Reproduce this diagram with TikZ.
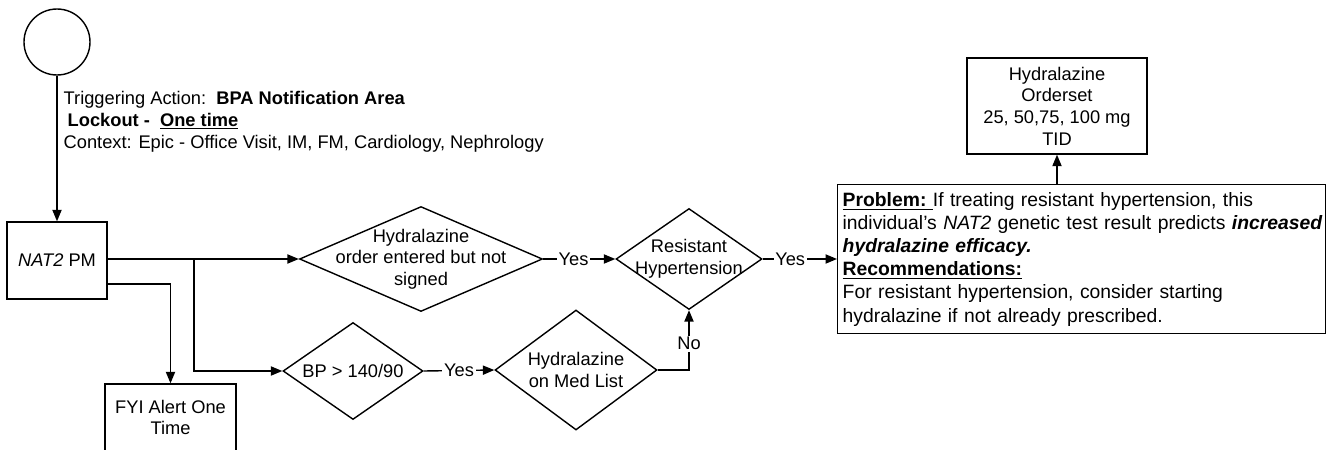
\documentclass[tikz,border=0pt]{standalone}
\usepackage{fontspec}
\setmainfont{Liberation Sans}
\usetikzlibrary{shapes.geometric,arrows.meta}
\begin{document}
\begin{tikzpicture}[x=0.02cm,y=-0.02cm,
  line width=0.8pt,
  every node/.style={font=\fontsize{10.4}{12.3}\selectfont},
  box/.style={draw, rectangle, inner sep=0pt, align=center},
  dia/.style={draw, diamond, inner sep=0pt},
  txt/.style={align=center, inner sep=0pt},
  arr/.style={-{Triangle[length=6.5pt,width=5.2pt]}},
  lab/.style={fill=white, inner sep=1pt}
]
\useasboundingbox[fill=white] (0,0) rectangle (1330,450);

% start circle and trigger text
\node[draw, circle, minimum size=1.32cm, inner sep=0pt] (start) at (57,42) {};
\node[anchor=base west, inner sep=0pt] (t1) at (63,104) {Triggering Action:\ \ \textbf{BPA Notification Area}};
\node[anchor=base west, inner sep=0pt] (t2) at (67,126) {\textbf{Lockout -\ \ \underline{One time}}};
\node[anchor=base west, inner sep=0pt] (t3) at (63,148) {Context: Epic - Office Visit, IM, FM, Cardiology, Nephrology};

% boxes
\node[box, minimum width=2cm, minimum height=1.54cm] (nat2) at (57,260.5) {\textit{NAT2} PM};
\node[box, minimum width=2.62cm, minimum height=1.34cm] (fyi) at (170.5,417.5) {FYI Alert One\\Time};
\node[box, anchor=north west, minimum width=9.76cm, minimum height=2.98cm,
      text width=9.56cm, inner xsep=0.1cm, align=left,
      font=\fontsize{11}{13.2}\selectfont] (prob) at (837,184)
  {\underline{\textbf{Problem:}\ }If treating resistant hypertension, this\\
   \makebox[\linewidth][l]{individual's \textit{NAT2} genetic test result predicts \textbf{\textit{increased}}}\\
   \textbf{\textit{hydralazine efficacy.}}\\
   \underline{\textbf{Recommendations:}}\\
   For resistant hypertension, consider starting\\
   hydralazine if not already prescribed.};
\node[box, minimum width=3.6cm, minimum height=1.92cm] (ord) at (1057,106)
  {Hydralazine\\Orderset\\25, 50,75, 100 mg\\TID};

% diamonds
\node[dia, minimum width=4.86cm, minimum height=2.1cm] (d1) at (421,259) {};
\node[txt] (d1t) at (d1) {Hydralazine\\order entered but not\\signed};
\node[dia, minimum width=2.92cm, minimum height=2.02cm] (res) at (689,259) {};
\node[txt] (rest) at (res) {Resistant\\Hypertension};
\node[dia, minimum width=2.8cm, minimum height=1.94cm] (bp) at (353,371) {};
\node[txt] (bpt) at (bp) {BP > 140/90};
\node[dia, minimum width=3.24cm, minimum height=2.4cm] (med) at (576,370) {};
\node[txt] (medt) at (med) {Hydralazine\\on Med List};

% connectors
\draw[arr] (start) -- (nat2);
\draw[arr] (nat2.east |- d1.west) -- (d1.west);
\coordinate (br) at (194,259);
\draw[arr] (br) |- (bp.west);
\coordinate (n2b) at (107,284);
\draw[arr] (n2b) -| (fyi.north);
\draw[arr] (d1.east) -- node[lab, pos=0.42] (y1) {Yes} (res.west);
\draw[arr] (res.east) -- node[lab, pos=0.37] (y2) {Yes} (prob.west |- res.east);
\draw[arr] (bp.east) -- node[lab, pos=0.5] (y3) {Yes} (med.west);
\draw[arr] (med.east) -| node[lab, pos=0.72] (no) {No} (res.south);
\draw[arr] (ord.south |- prob.north) -- (ord.south);
\end{tikzpicture}
\end{document}
